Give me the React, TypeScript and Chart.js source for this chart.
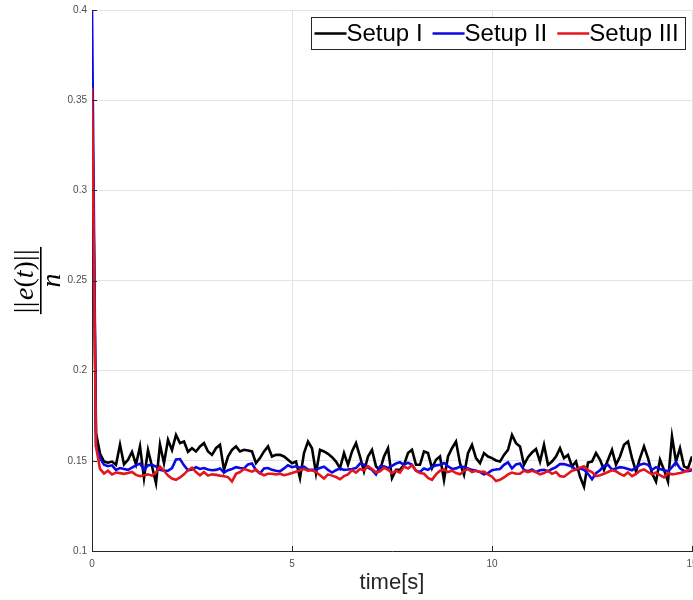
import React, { useEffect, useRef } from "react";
import { Chart, registerables } from "chart.js";

Chart.register(...registerables);

// Sample times [s], one every 0.1 s from 0 to 15
const TIME: number[] = Array.from({ length: 151 }, (_, i) => i / 10);

const SETUP_I: number[] = [
  0.36,
  0.1654, 0.154, 0.1496, 0.149, 0.1496, 0.1478, 0.159, 0.148, 0.1506, 0.155,
  0.148, 0.158, 0.1404, 0.156, 0.147, 0.1376, 0.159, 0.1487, 0.1617, 0.156,
  0.1644, 0.1598, 0.1607, 0.155, 0.157, 0.1552, 0.158, 0.1598, 0.1552, 0.1533,
  0.157, 0.1589, 0.145, 0.1524, 0.1561, 0.158, 0.1552, 0.1561, 0.1557, 0.1552,
  0.1487, 0.1515, 0.1552, 0.158, 0.1524, 0.1533, 0.1533, 0.1524, 0.1506, 0.1487,
  0.1496, 0.1404, 0.1543, 0.1607, 0.157, 0.1431, 0.1561, 0.1552, 0.1539, 0.152,
  0.1496, 0.1459, 0.1543, 0.1478, 0.1552, 0.1598, 0.1524, 0.1441, 0.1524, 0.1561,
  0.1469, 0.145, 0.1524, 0.157, 0.1404, 0.145, 0.145, 0.1478, 0.1543, 0.1561,
  0.1478, 0.1478, 0.1552, 0.1543, 0.1459, 0.1506, 0.1524, 0.1394, 0.1524, 0.157,
  0.1607, 0.1487, 0.1422, 0.1543, 0.1589, 0.1515, 0.1487, 0.1543, 0.1524, 0.1515,
  0.1502, 0.1496, 0.1533, 0.1561, 0.1644, 0.1598, 0.158, 0.1478, 0.152, 0.1546,
  0.1565, 0.1496, 0.1589, 0.1478, 0.1496, 0.1524, 0.157, 0.1515, 0.1533, 0.1469,
  0.1496, 0.1413, 0.1357, 0.1491, 0.1496, 0.1543, 0.1506, 0.145, 0.1506, 0.1561,
  0.1478, 0.1524, 0.1589, 0.1607, 0.1515, 0.1441, 0.1515, 0.158, 0.1515, 0.1431,
  0.1385, 0.1506, 0.145, 0.1385, 0.1635, 0.1496, 0.157, 0.1469, 0.1459, 0.1524,
];

const SETUP_II: number[] = [
  0.4,
  0.158, 0.1515, 0.1478, 0.147, 0.1475, 0.145, 0.146, 0.1455, 0.145, 0.1462,
  0.1475, 0.1485, 0.145, 0.1475, 0.1478, 0.1468, 0.145, 0.1445, 0.1445, 0.146,
  0.1508, 0.151, 0.1475, 0.1448, 0.1452, 0.1465, 0.1455, 0.146, 0.1452, 0.1448,
  0.145, 0.1458, 0.1435, 0.1448, 0.1455, 0.1465, 0.146, 0.1458, 0.148, 0.1485,
  0.1448, 0.143, 0.1458, 0.146, 0.145, 0.1445, 0.1442, 0.1458, 0.1475, 0.1465,
  0.147, 0.1462, 0.1468, 0.1452, 0.145, 0.1452, 0.146, 0.1468, 0.145, 0.1435,
  0.1448, 0.1458, 0.145, 0.1452, 0.1455, 0.146, 0.1485, 0.1478, 0.1462, 0.145,
  0.1425, 0.1468, 0.147, 0.146, 0.1472, 0.1485, 0.1492, 0.1478, 0.149, 0.1478,
  0.1445, 0.1438, 0.1458, 0.145, 0.1465, 0.1475, 0.1478, 0.1488, 0.147, 0.1455,
  0.1458, 0.1468, 0.1465, 0.1458, 0.145, 0.1445, 0.1438, 0.1425, 0.1432, 0.1448,
  0.1452, 0.1455, 0.1478, 0.1492, 0.1458, 0.148, 0.1485, 0.145, 0.1442, 0.1452,
  0.1438, 0.1448, 0.145, 0.1442, 0.1455, 0.1465, 0.1482, 0.1482, 0.1475, 0.1468,
  0.145, 0.1458, 0.145, 0.1428, 0.1398, 0.1432, 0.1448, 0.1472, 0.1478, 0.1452,
  0.1458, 0.1465, 0.1462, 0.1455, 0.1448, 0.1462, 0.1478, 0.1485, 0.1478, 0.145,
  0.1465, 0.1455, 0.1448, 0.1442, 0.1465, 0.1492, 0.1458, 0.1445, 0.1442, 0.1448,
];

const SETUP_III: number[] = [
  0.357,
  0.158, 0.1455, 0.143, 0.1445, 0.1425, 0.1435, 0.1432, 0.1428, 0.1432, 0.1438,
  0.1422, 0.1415, 0.142, 0.1425, 0.1418, 0.1435, 0.1468, 0.1445, 0.1418, 0.1402,
  0.1395, 0.1408, 0.1425, 0.1448, 0.1462, 0.1438, 0.142, 0.1438, 0.1418, 0.1425,
  0.1422, 0.1418, 0.1415, 0.141, 0.1385, 0.1428, 0.1438, 0.1455, 0.1448, 0.144,
  0.1452, 0.1432, 0.142, 0.1428, 0.1428, 0.1425, 0.1428, 0.142, 0.1425, 0.1432,
  0.144, 0.1448, 0.1455, 0.1445, 0.1448, 0.1438, 0.142, 0.1402, 0.1425, 0.1418,
  0.141, 0.1398, 0.1415, 0.1425, 0.1448, 0.1435, 0.1455, 0.1448, 0.147, 0.1455,
  0.1435, 0.1442, 0.1462, 0.145, 0.1432, 0.1445, 0.1435, 0.1468, 0.1458, 0.1475,
  0.1445, 0.1432, 0.1428, 0.1405, 0.1395, 0.1425, 0.1445, 0.1452, 0.1438, 0.1445,
  0.1432, 0.1425, 0.1445, 0.1455, 0.1438, 0.1445, 0.1438, 0.144, 0.1425, 0.1412,
  0.1388, 0.1395, 0.1408, 0.1425, 0.1435, 0.1428, 0.1428, 0.1445, 0.1438, 0.1445,
  0.1438, 0.1425, 0.1432, 0.1445, 0.1428, 0.1438, 0.1415, 0.1412, 0.1428, 0.1445,
  0.1452, 0.1462, 0.147, 0.1448, 0.1438, 0.1415, 0.142, 0.1428, 0.1438, 0.1448,
  0.1442, 0.1428, 0.1418, 0.1435, 0.1415, 0.1428, 0.1445, 0.1452, 0.1438, 0.1425,
  0.1435, 0.142, 0.1408, 0.1432, 0.1425, 0.1428, 0.1432, 0.1438, 0.1448, 0.1455,
];

const SERIES_NAMES = ["Setup I", "Setup II", "Setup III"];
const SERIES_COLORS = ["#000000", "#0a0ae6", "#e3161e"];

const X_MIN = 0;
const X_MAX = 15;
const X_STEP = 5;
const Y_MIN = 0.1;
const Y_MAX = 0.4;
const Y_STEP = 0.05;

const X_TITLE = "time[s]";

const AXIS_COLOR = "#262626";
const GRID_COLOR = "#e3e3e3";

const toPoints = (ys: number[]) => TIME.map((t, i) => ({ x: t, y: ys[i] }));

// Inward tick marks, axis titles and the boxed legend
const decorations = {
  id: "decorations",
  afterDraw(chart: any) {
    const { ctx, chartArea, scales } = chart;
    const xs = scales.x;
    const ys = scales.y;
    ctx.save();

    // inward tick marks
    ctx.strokeStyle = AXIS_COLOR;
    ctx.lineWidth = 1;
    ctx.beginPath();
    ys.ticks.forEach((tk: any) => {
      const py = Math.round(ys.getPixelForValue(tk.value)) + 0.5;
      ctx.moveTo(chartArea.left, py);
      ctx.lineTo(chartArea.left + 5, py);
    });
    xs.ticks.forEach((tk: any) => {
      const px = Math.round(xs.getPixelForValue(tk.value)) + 0.5;
      ctx.moveTo(px, chartArea.bottom);
      ctx.lineTo(px, chartArea.bottom - 5);
    });
    ctx.stroke();

    // x axis title
    ctx.fillStyle = AXIS_COLOR;
    ctx.font = '22px "Liberation Sans", Arial, sans-serif';
    ctx.textAlign = "center";
    ctx.textBaseline = "middle";
    ctx.fillText(X_TITLE, (chartArea.left + chartArea.right) / 2, 583);

    // y axis title: fraction ||e(t)|| over n, rotated
    ctx.save();
    ctx.translate(41, (chartArea.top + chartArea.bottom) / 2);
    ctx.rotate(-Math.PI / 2);
    const up = '28px "Liberation Serif", "DejaVu Serif", serif';
    const it = 'italic 28px "Liberation Serif", "DejaVu Serif", serif';
    const parts: [string, string][] = [
      ["||", up],
      ["e", it],
      ["(", up],
      ["t", it],
      [")", up],
      ["||", up],
    ];
    let total = 0;
    const widths = parts.map(([s, f]) => {
      ctx.font = f;
      const w = ctx.measureText(s).width + (s === "||" ? 2 : 0);
      total += w;
      return w;
    });
    ctx.fillStyle = "#000";
    ctx.textAlign = "left";
    ctx.textBaseline = "alphabetic";
    let cx = -total / 2;
    parts.forEach(([s, f], i) => {
      ctx.font = f;
      if (s === "||") {
        ctx.fillText("|", cx, -8);
        ctx.fillText("|", cx + 6, -8);
      } else {
        ctx.fillText(s, cx, -8);
      }
      cx += widths[i];
    });
    ctx.fillRect(-total / 2 - 1, -1, total + 2, 1.6);
    ctx.font = it;
    ctx.textAlign = "center";
    ctx.fillText("n", 0, 19);
    ctx.restore();

    // legend
    ctx.font = '24px "Liberation Sans", Arial, sans-serif';
    const lineLen = 32;
    const itemGap = 10;
    const textW = SERIES_NAMES.map((n) => ctx.measureText(n).width);
    const contentW =
      textW.reduce((a, b) => a + b, 0) + lineLen * SERIES_NAMES.length + itemGap * (SERIES_NAMES.length - 1);
    const boxRight = 685.5;
    const boxLeft = Math.round(boxRight - contentW - 10) + 0.5;
    const boxTop = 17.5;
    const boxH = 32;
    ctx.fillStyle = "#ffffff";
    ctx.fillRect(boxLeft, boxTop, boxRight - boxLeft, boxH);
    ctx.strokeStyle = AXIS_COLOR;
    ctx.lineWidth = 1;
    ctx.strokeRect(boxLeft, boxTop, boxRight - boxLeft, boxH);
    const midY = boxTop + boxH / 2;
    let lx = boxLeft + 3;
    ctx.textAlign = "left";
    ctx.textBaseline = "middle";
    SERIES_NAMES.forEach((name, i) => {
      ctx.strokeStyle = SERIES_COLORS[i];
      ctx.lineWidth = 2.5;
      ctx.beginPath();
      ctx.moveTo(lx, midY);
      ctx.lineTo(lx + lineLen, midY);
      ctx.stroke();
      lx += lineLen;
      ctx.fillStyle = "#000";
      ctx.fillText(name, lx, midY + 1);
      lx += textW[i] + itemGap;
    });

    ctx.restore();
  },
};

export default function App() {
  const canvasRef = useRef<HTMLCanvasElement | null>(null);

  useEffect(() => {
    const canvas = canvasRef.current;
    if (!canvas) return;
    const seriesData = [SETUP_I, SETUP_II, SETUP_III];
    const chart = new Chart(canvas, {
      type: "line",
      data: {
        datasets: seriesData.map((ys, i) => ({
          label: SERIES_NAMES[i],
          data: toPoints(ys),
          borderColor: SERIES_COLORS[i],
          backgroundColor: SERIES_COLORS[i],
          borderWidth: 2.6,
          pointRadius: 0,
          tension: 0,
          fill: false,
          order: SERIES_NAMES.length - 1 - i,
        })),
      },
      options: {
        responsive: false,
        animation: false,
        devicePixelRatio: 1,
        layout: {
          autoPadding: false,
          padding: { left: 0, right: 1, top: 10, bottom: 0 },
        },
        plugins: {
          legend: { display: false },
          tooltip: { enabled: false },
          title: { display: false },
        },
        scales: {
          x: {
            type: "linear",
            min: X_MIN,
            max: X_MAX,
            afterFit: (s: any) => {
              s.height = 49;
              s.paddingLeft = 0;
              s.paddingRight = 0;
            },
            ticks: {
              stepSize: X_STEP,
              color: "#4d4d4d",
              padding: 7,
              maxRotation: 0,
              font: { family: '"Liberation Sans", Arial, sans-serif', size: 10 },
            },
            grid: { color: GRID_COLOR, drawTicks: false, lineWidth: 1 },
            border: { display: true, color: AXIS_COLOR, width: 1 },
          },
          y: {
            type: "linear",
            min: Y_MIN,
            max: Y_MAX,
            afterFit: (s: any) => {
              s.width = 92;
              s.paddingTop = 0;
              s.paddingBottom = 0;
            },
            ticks: {
              stepSize: Y_STEP,
              color: "#4d4d4d",
              padding: 5,
              callback: (v: any) => String(Number(Number(v).toFixed(2))),
              font: { family: '"Liberation Sans", Arial, sans-serif', size: 10 },
            },
            grid: { color: GRID_COLOR, drawTicks: false, lineWidth: 1 },
            border: { display: true, color: AXIS_COLOR, width: 1 },
          },
        },
      },
      plugins: [decorations],
    });
    return () => chart.destroy();
  }, []);

  return (
    <div style={{ position: "absolute", left: 0, top: 0, width: 693, height: 600, background: "#fff" }}>
      <canvas ref={canvasRef} width={693} height={600} />
    </div>
  );
}
